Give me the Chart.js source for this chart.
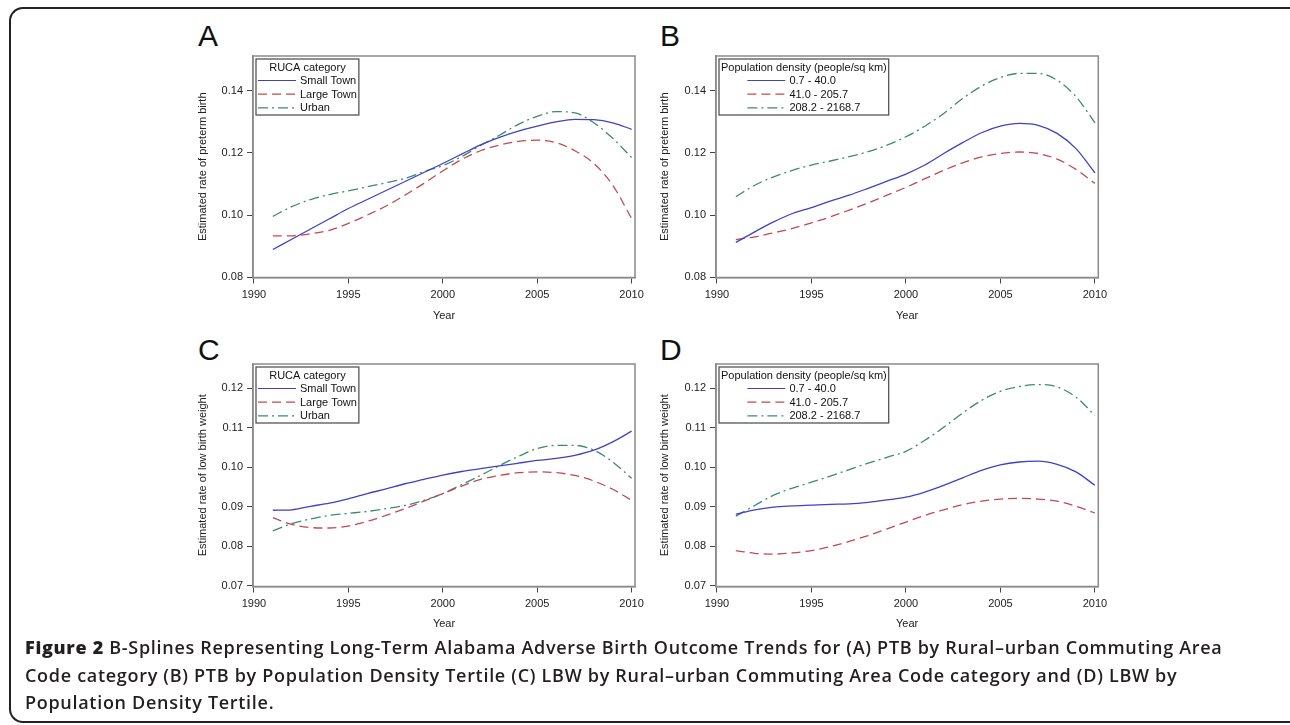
<!DOCTYPE html>
<html>
<head>
<meta charset="utf-8">
<script src="https://cdn.jsdelivr.net/npm/chart.js@4.4.1/dist/chart.umd.min.js"></script>
<style>
  body { margin: 0; background: #fff; }
  #page { position: relative; width: 1290px; height: 725px; overflow: hidden; background: #fff; }
  #frame { position: absolute; left: 9px; top: 7px; width: 1290px; height: 716px; box-sizing: border-box;
           border: 2px solid #222; border-right: none; border-radius: 14px 0 0 14px; }
  canvas { position: absolute; }
  .letter { position: absolute; font: 30px/30px "Liberation Sans", Arial, sans-serif; color: #111; }
  #caption { position: absolute; left: 25px; top: 634px; font-family: "Open Sans", sans-serif; font-size: 18px;
             letter-spacing: 0.7px; line-height: 27.5px; font-weight: 600; color: #231f20; white-space: nowrap; }
  #caption b { font-weight: 800; }
</style>
</head>
<body>
<div id="page">
  <div id="frame"></div>
  <div class="letter" style="left:198px;top:21px">A</div>
  <div class="letter" style="left:660px;top:21px">B</div>
  <div class="letter" style="left:198px;top:335px">C</div>
  <div class="letter" style="left:660px;top:335px">D</div>
  <canvas id="chartA" width="465" height="290" style="left:185px;top:40px"></canvas>
  <canvas id="chartB" width="465" height="290" style="left:650px;top:40px"></canvas>
  <canvas id="chartC" width="465" height="291" style="left:185px;top:348px"></canvas>
  <canvas id="chartD" width="465" height="291" style="left:650px;top:348px"></canvas>
  <div id="caption"><b>Figure 2</b> B-Splines Representing Long-Term Alabama Adverse Birth Outcome Trends for (A) PTB by Rural–urban Commuting Area<br>Code category (B) PTB by Population Density Tertile (C) LBW by Rural–urban Commuting Area Code category and (D) LBW by<br>Population Density Tertile.</div>
</div>
<script>
//data
var years = [1991, 1992, 1993, 1994, 1995, 1996, 1997, 1998, 1999, 2000,
             2001, 2002, 2003, 2004, 2005, 2006, 2007, 2008, 2009, 2010];
var xTicks = [1990, 1995, 2000, 2005, 2010];
var ptbTicks = [0.08, 0.10, 0.12, 0.14];
var lbwTicks = [0.07, 0.08, 0.09, 0.10, 0.11, 0.12];

var rucaNames = ["Small Town", "Large Town", "Urban"];
var densityNames = ["0.7 - 40.0", "41.0 - 205.7", "208.2 - 2168.7"];

// A: preterm birth by RUCA category
var ptbSmallTown = [0.0889, 0.0922, 0.0955, 0.0988, 0.1021, 0.1050, 0.1079, 0.1108, 0.1137, 0.1166,
                    0.1196, 0.1226, 0.1250, 0.1270, 0.1286, 0.1300, 0.1308, 0.1307, 0.1297, 0.1276];
var ptbLargeTown = [0.0933, 0.0933, 0.0940, 0.0951, 0.0973, 0.1000, 0.1029, 0.1064, 0.1102, 0.1142,
                    0.1179, 0.1207, 0.1225, 0.1237, 0.1241, 0.1233, 0.1207, 0.1166, 0.1096, 0.0989];
var ptbUrban     = [0.0996, 0.1027, 0.1050, 0.1066, 0.1078, 0.1091, 0.1104, 0.1118, 0.1140, 0.1159,
                    0.1188, 0.1224, 0.1257, 0.1292, 0.1318, 0.1333, 0.1329, 0.1297, 0.1247, 0.1185];

// B: preterm birth by density tertile
var ptbLow  = [0.0912, 0.0946, 0.0978, 0.1005, 0.1024, 0.1045, 0.1064, 0.1086, 0.1109, 0.1132,
               0.1161, 0.1198, 0.1233, 0.1265, 0.1286, 0.1295, 0.1289, 0.1263, 0.1214, 0.1136];
var ptbMid  = [0.0921, 0.0930, 0.0943, 0.0957, 0.0975, 0.0994, 0.1016, 0.1039, 0.1064, 0.1089,
               0.1117, 0.1144, 0.1168, 0.1187, 0.1198, 0.1203, 0.1198, 0.1180, 0.1147, 0.1102];
var ptbHigh = [0.1059, 0.1096, 0.1123, 0.1144, 0.1161, 0.1174, 0.1188, 0.1204, 0.1225, 0.1252,
               0.1286, 0.1327, 0.1375, 0.1415, 0.1443, 0.1456, 0.1456, 0.1434, 0.1381, 0.1297];

// C: low birth weight by RUCA category
var lbwSmallTown = [0.0891, 0.0892, 0.0901, 0.0909, 0.0920, 0.0933, 0.0945, 0.0958, 0.0969, 0.0980,
                    0.0989, 0.0996, 0.1003, 0.1010, 0.1017, 0.1022, 0.1030, 0.1043, 0.1064, 0.1091];
var lbwLargeTown = [0.0872, 0.0855, 0.0847, 0.0846, 0.0851, 0.0863, 0.0878, 0.0895, 0.0914, 0.0933,
                    0.0952, 0.0969, 0.0979, 0.0986, 0.0988, 0.0986, 0.0979, 0.0965, 0.0944, 0.0916];
var lbwUrban     = [0.0839, 0.0857, 0.0869, 0.0878, 0.0883, 0.0888, 0.0895, 0.0903, 0.0916, 0.0933,
                    0.0956, 0.0979, 0.1004, 0.1027, 0.1047, 0.1055, 0.1055, 0.1043, 0.1013, 0.0972];

// D: low birth weight by density tertile
var lbwLow  = [0.0881, 0.0892, 0.0899, 0.0902, 0.0904, 0.0906, 0.0907, 0.0911, 0.0917, 0.0924,
               0.0937, 0.0954, 0.0973, 0.0992, 0.1006, 0.1013, 0.1015, 0.1007, 0.0988, 0.0954];
var lbwMid  = [0.0789, 0.0782, 0.0780, 0.0783, 0.0789, 0.0799, 0.0812, 0.0827, 0.0844, 0.0861,
               0.0878, 0.0892, 0.0905, 0.0914, 0.0919, 0.0921, 0.0919, 0.0914, 0.0901, 0.0884];
var lbwHigh = [0.0876, 0.0903, 0.0929, 0.0947, 0.0962, 0.0977, 0.0994, 0.1010, 0.1025, 0.1040,
               0.1068, 0.1101, 0.1137, 0.1169, 0.1192, 0.1204, 0.1209, 0.1203, 0.1177, 0.1131];

//styles
var FONT = "'Liberation Sans', Arial, sans-serif";
var lineColors = ["#4040c8", "#c44852", "#3d8a74"];
var lineDashes = [[], [9, 5], [10, 4, 2, 4]];

//draws the grey box round the plot and the boxed legend inside it
var framePlugin = {
    id: "frameAndLegend",
    afterDatasetsDraw: function (chart) {
        var ctx = chart.ctx;
        var a = chart.chartArea;
        ctx.save();
        ctx.strokeStyle = "#8a8a8a";
        ctx.lineWidth = 1.5;
        ctx.strokeRect(a.left, a.top, a.right - a.left, a.bottom - a.top);

        var title = chart.options.plugins.boxLegend.title;
        var sets = chart.data.datasets;
        ctx.font = "11px " + FONT;
        var labelW = 0;
        sets.forEach(function (d) { labelW = Math.max(labelW, ctx.measureText(d.label).width); });
        var sampleW = 38, gap = 4;
        var groupW = sampleW + gap + labelW;
        var titleW = ctx.measureText(title).width;
        var w = Math.max(groupW, titleW) + 4;
        var x0 = a.left + 3, y0 = a.top + 3, h = 56;

        ctx.fillStyle = "#fff";
        ctx.fillRect(x0, y0, w, h);
        ctx.strokeStyle = "#555";
        ctx.lineWidth = 1.3;
        ctx.strokeRect(x0, y0, w, h);

        ctx.fillStyle = "#111";
        ctx.textBaseline = "middle";
        ctx.textAlign = "center";
        ctx.fillText(title, x0 + w / 2, y0 + 8.5);

        var gx = x0 + (w - groupW) / 2;
        ctx.textAlign = "left";
        for (var i = 0; i < sets.length; i++) {
            var yy = y0 + 21.5 + i * 13.7;
            ctx.strokeStyle = sets[i].borderColor;
            ctx.lineWidth = 1.2;
            ctx.setLineDash(sets[i].borderDash);
            ctx.beginPath();
            ctx.moveTo(gx, yy);
            ctx.lineTo(gx + sampleW, yy);
            ctx.stroke();
            ctx.setLineDash([]);
            ctx.fillText(sets[i].label, gx + sampleW + gap, yy + 0.5);
        }
        ctx.restore();
    }
};

function makePanel(id, names, series, legendTitle, yTitle, yTicks, yMin, yMax, box) {
    var datasets = [];
    for (var s = 0; s < series.length; s++) {
        var pts = [];
        for (var i = 0; i < years.length; i++) {
            pts.push({x: years[i], y: series[s][i]});
        }
        datasets.push({
            label: names[s],
            data: pts,
            borderColor: lineColors[s],
            borderDash: lineDashes[s],
            borderWidth: 1.3,
            pointRadius: 0,
            fill: false,
            cubicInterpolationMode: "monotone"
        });
    }
    var tickFont = {family: FONT, size: 11};
    return new Chart(document.getElementById(id).getContext("2d"), {
        type: "line",
        data: {datasets: datasets},
        plugins: [framePlugin],
        options: {
            responsive: false,
            animation: false,
            layout: {padding: {top: 16, right: box.padRight, bottom: 0, left: 0}},
            plugins: {
                legend: {display: false},
                tooltip: {enabled: false},
                boxLegend: {title: legendTitle}
            },
            scales: {
                x: {
                    type: "linear",
                    min: 1989.95,
                    max: 2010.18,
                    afterBuildTicks: function (scale) {
                        scale.ticks = xTicks.map(function (v) { return {value: v}; });
                    },
                    afterFit: function (scale) { scale.height = box.xH; },
                    ticks: {font: tickFont, color: "#222", padding: 5, maxRotation: 0,
                            callback: function (v) { return String(v); }},
                    grid: {display: true, drawOnChartArea: false, drawTicks: true, tickLength: 6, color: "#444"},
                    border: {display: true, color: "#8a8a8a", width: 1.5},
                    title: {display: true, text: "Year", font: tickFont, color: "#222",
                            padding: {top: 0, bottom: box.xTitlePad}}
                },
                y: {
                    min: yMin,
                    max: yMax,
                    afterBuildTicks: function (scale) {
                        scale.ticks = yTicks.map(function (v) { return {value: v}; });
                    },
                    afterFit: function (scale) { scale.width = box.yW; },
                    ticks: {font: tickFont, color: "#222", padding: 4,
                            callback: function (v) { return v.toFixed(2); }},
                    grid: {display: true, drawOnChartArea: false, drawTicks: true, tickLength: 6, color: "#444"},
                    border: {display: true, color: "#8a8a8a", width: 1.5},
                    title: {display: true, text: yTitle, font: tickFont, color: "#222",
                            padding: {top: box.yTitlePad, bottom: 0}}
                }
            }
        }
    });
}

window.onload = function () {
    var leftBox = {yW: 68, xH: 52.5, padRight: 15, yTitlePad: 11.4, xTitlePad: 7.4};
    var rightBox = {yW: 66, xH: 52.5, padRight: 16.7, yTitlePad: 8.4, xTitlePad: 7.4};
    var leftBoxLow = {yW: 68, xH: 52.5, padRight: 15, yTitlePad: 11.4, xTitlePad: 8.4};
    var rightBoxLow = {yW: 66, xH: 52.5, padRight: 16.7, yTitlePad: 8.4, xTitlePad: 8.4};

    makePanel("chartA", rucaNames, [ptbSmallTown, ptbLargeTown, ptbUrban], "RUCA category",
        "Estimated rate of preterm birth", ptbTicks, 0.0799, 0.1512, leftBox);
    makePanel("chartB", densityNames, [ptbLow, ptbMid, ptbHigh], "Population density (people/sq km)",
        "Estimated rate of preterm birth", ptbTicks, 0.0799, 0.1512, rightBox);
    makePanel("chartC", rucaNames, [lbwSmallTown, lbwLargeTown, lbwUrban], "RUCA category",
        "Estimated rate of low birth weight", lbwTicks, 0.0698, 0.1261, leftBoxLow);
    makePanel("chartD", densityNames, [lbwLow, lbwMid, lbwHigh], "Population density (people/sq km)",
        "Estimated rate of low birth weight", lbwTicks, 0.0698, 0.1261, rightBoxLow);
};
</script>
</body>
</html>
